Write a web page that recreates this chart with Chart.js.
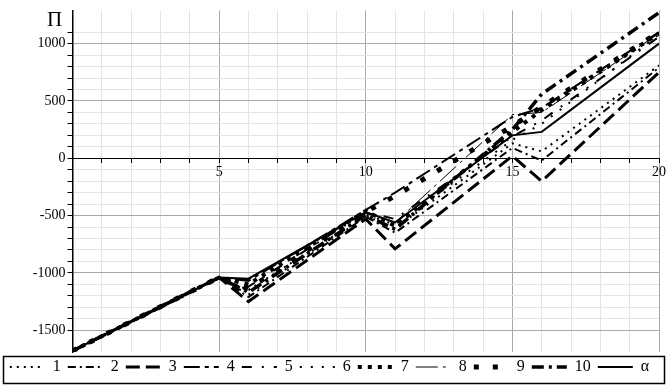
<!DOCTYPE html>
<html><head><meta charset="utf-8">
<script src="https://cdn.jsdelivr.net/npm/chart.js@4"></script>
<style>html,body{margin:0;padding:0;background:#fff}</style>
</head><body>
<canvas id="c" width="668" height="385"></canvas>
<script>
// ---- data ----
const alphaValues = [0, 5, 6, 10, 11, 15, 16, 20];
const seriesLabels = ['1','2','3','4','5','6','7','8','9','10','α'];
const s1  = [-1680,-1040,-1150,-500,-610, 130,  60,  810];
const s2  = [-1680,-1040,-1210,-510,-650,  90, -20,  790];
const s3  = [-1680,-1040,-1250,-530,-790,  20,-200,  750];
const s4  = [-1680,-1040,-1070,-450,-300, 360, 440, 1100];
const s5  = [-1680,-1040,-1120,-470,-530, 190, 330, 1060];
const s6  = [-1680,-1040,-1190,-490,-580, 160, 300, 1080];
const s7  = [-1680,-1040,-1100,-460,-590, 230, 420, 1090];
const s8  = [-1680,-1040,-1060,-480,-560, 380, 400, 1090];
const s9  = [-1680,-1040,-1140,-465,-330, 280, 450, 1100];
const s10 = [-1680,-1040,-1170,-495,-620, 250, 560, 1270];
const sAlpha = [-1680,-1040,-1050,-470,-560, 200, 230, 1000];
const yTickLabels = [-1500, -1000, -500, 0, 500, 1000];
const xTickLabels = [5, 10, 15, 20];

// ---- styles ----
const allSeries = [s1,s2,s3,s4,s5,s6,s7,s8,s9,s10,sAlpha];
const dashes = [[2,5],[8,4,2,4],[14,6],[16,5,4,5],[10,10,2,10],[2,9],[4,6],[22,5,3,5],[5,14],[12,5,3,5],[]];
const widths = [2,2,3,2,2,2,4,1,5,3.5,2];

const datasets = allSeries.map((arr, i) => ({
  label: seriesLabels[i],
  data: alphaValues.map((a, j) => ({x: a, y: arr[j]})),
  borderColor: '#000',
  backgroundColor: '#000',
  borderWidth: widths[i],
  borderDash: dashes[i],
  pointRadius: 0,
  tension: 0,
  fill: false
}));

const serif = '"Liberation Serif", "DejaVu Serif", serif';

const extras = {
  id: 'extras',
  afterDraw(chart) {
    const ctx = chart.ctx, lg = chart.legend, ca = chart.chartArea;
    ctx.save();
    ctx.strokeStyle = '#000';
    ctx.lineWidth = 1.5;
    ctx.strokeRect(3.5, lg.top + 4.5, 661, lg.bottom - lg.top - 6);
    ctx.fillStyle = '#000';
    ctx.font = '21px ' + serif;
    ctx.textAlign = 'center';
    ctx.textBaseline = 'middle';
    ctx.fillText('Π', ca.left - 18, ca.top + 10);
    ctx.restore();
  }
};

new Chart(document.getElementById('c'), {
  type: 'line',
  data: { datasets },
  plugins: [extras],
  options: {
    responsive: false,
    animation: false,
    layout: { padding: { left: 0, right: 9, top: 3, bottom: 0 } },
    plugins: {
      tooltip: { enabled: false },
      legend: {
        position: 'bottom',
        labels: {
          usePointStyle: true,
          pointStyle: 'line',
          pointStyleWidth: 35,
          padding: 7,
          color: '#000',
          font: { family: serif, size: 16 },
          generateLabels: chart => {
            const items = Chart.defaults.plugins.legend.labels.generateLabels(chart);
            items.forEach((it, i) => {
              it.lineDash = dashes[i];
              it.lineWidth = widths[i];
              it.strokeStyle = '#000';
              it.fillStyle = '#000';
              it.lineCap = 'butt';
            });
            return items;
          }
        }
      }
    },
    scales: {
      x: {
        type: 'linear',
        position: { y: 0 },
        min: 0, max: 20,
        afterFit: s => { s.height = 0; },
        ticks: {
          stepSize: 1, autoSkip: false, maxRotation: 0,
          color: '#000', font: { family: serif, size: 14 }, padding: 2,
          callback: v => xTickLabels.includes(v) ? String(v) : ''
        },
        grid: {
          color: c => (c.tick && c.tick.value % 5 === 0 && c.tick.value > 0) ? '#a8a8a8' : (c.tick && c.tick.value === 0 ? 'rgba(0,0,0,0)' : '#e4e4e4'),
          lineWidth: 1,
          tickColor: '#000',
          tickLength: 4
        },
        border: { color: '#000', width: 1 }
      },
      y: {
        type: 'linear',
        position: 'left',
        min: -1690, max: 1290,
        afterFit: s => { s.width = 72.5; },
        ticks: {
          stepSize: 100, autoSkip: false,
          color: '#000', font: { family: serif, size: 14 }, padding: 2,
          callback: v => yTickLabels.includes(v) ? String(v) : ''
        },
        grid: {
          color: c => {
            const v = c.tick ? c.tick.value : NaN;
            if (v % 100 !== 0 || v === 0) return 'rgba(0,0,0,0)';
            return v % 500 === 0 ? '#a8a8a8' : '#e4e4e4';
          },
          tickColor: c => (c.tick && c.tick.value % 100 === 0) ? '#000' : 'rgba(0,0,0,0)',
          lineWidth: 1,
          tickLength: 5
        },
        border: { color: '#000', width: 1.5 }
      }
    }
  }
});
</script>
</body></html>
